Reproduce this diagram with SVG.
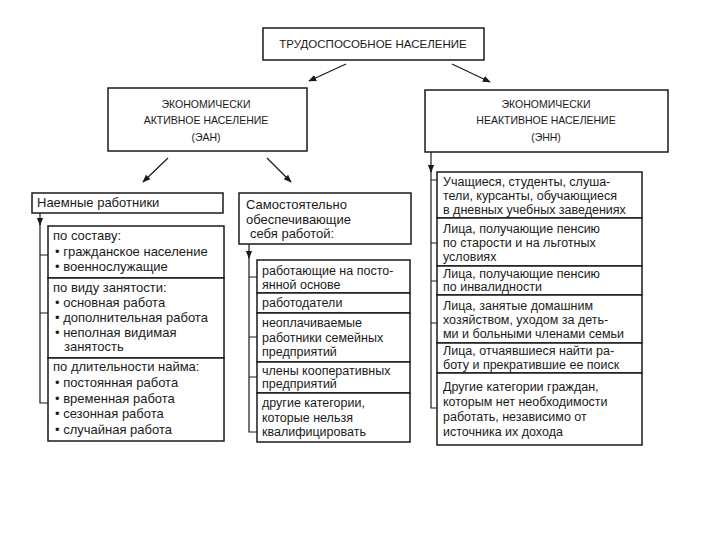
<svg xmlns="http://www.w3.org/2000/svg" width="720" height="540" viewBox="0 0 720 540">
<defs>
<style>
.bx{fill:#fff;stroke:#1a1a1a;stroke-width:1.5}
.t{font-family:"Liberation Sans",Arial,sans-serif;fill:#1a1a1a}
.h{font-size:10.5px;text-anchor:middle}
.ti{font-size:11.5px;text-anchor:middle}
.b{font-size:12.5px}
.l{font-size:13px}
.c{fill:none;stroke:#1a1a1a;stroke-width:1.2}
</style>
<marker id="ah" viewBox="0 0 10 10" refX="9" refY="5" markerWidth="8" markerHeight="8" orient="auto" markerUnits="userSpaceOnUse"><path d="M0,1 L10,5 L0,9 z" fill="#1a1a1a"/></marker>
</defs>
<rect width="720" height="540" fill="#fff"/>

<g id="connectors">
<line class="c" x1="346" y1="64" x2="309" y2="81" marker-end="url(#ah)"/>
<line class="c" x1="452" y1="64" x2="490" y2="82" marker-end="url(#ah)"/>
<line class="c" x1="168" y1="158" x2="143" y2="182" marker-end="url(#ah)"/>
<line class="c" x1="267" y1="158" x2="291" y2="182" marker-end="url(#ah)"/>
<path class="c" d="M40,213 V225" marker-end="url(#ah)"/>
<path class="c" d="M40,224 V403 H48 M40,255 H48 M40,313 H48"/>
<path class="c" d="M249,244 V258" marker-end="url(#ah)"/>
<path class="c" d="M249,257 V432 H257 M249,277 H257 M249,337 H257 M249,377 H257"/>
<path class="c" d="M431,152 V172" marker-end="url(#ah)"/>
<path class="c" d="M431,171 V408 H437 M431,180 H437 M431,243 H437 M431,281 H437 M431,323 H437"/>
</g>

<g id="top">
<rect class="bx" x="263" y="28" width="221" height="32"/>
<text class="t ti" x="373" y="48">ТРУДОСПОСОБНОЕ НАСЕЛЕНИЕ</text>
</g>

<g id="ean">
<rect class="bx" x="108" y="88" width="199" height="63"/>
<text class="t h" x="206" y="108">ЭКОНОМИЧЕСКИ</text>
<text class="t h" x="206" y="124">АКТИВНОЕ НАСЕЛЕНИЕ</text>
<text class="t h" x="206" y="141">(ЭАН)</text>
</g>

<g id="enn">
<rect class="bx" x="425" y="90" width="243" height="62"/>
<text class="t h" x="546" y="108">ЭКОНОМИЧЕСКИ</text>
<text class="t h" x="546" y="124">НЕАКТИВНОЕ НАСЕЛЕНИЕ</text>
<text class="t h" x="546" y="141">(ЭНН)</text>
</g>

<g id="hired">
<rect class="bx" x="32" y="193" width="191" height="20"/>
<text class="t l" x="37" y="207">Наемные работники</text>
</g>

<g id="hired-composition">
<rect class="bx" x="48" y="226" width="176" height="52"/>
<text class="t l" x="53" y="240">по составу:</text>
<text class="t l" x="55" y="256">• гражданское население</text>
<text class="t l" x="55" y="271">• военнослужащие</text>
</g>
<g id="hired-type">
<rect class="bx" x="48" y="278" width="176" height="80"/>
<text class="t l" x="53" y="292">по виду занятости:</text>
<text class="t l" x="55" y="307">• основная работа</text>
<text class="t l" x="55" y="322">• дополнительная работа</text>
<text class="t l" x="55" y="337">• неполная видимая</text>
<text class="t l" x="64" y="351">занятость</text>
</g>
<g id="hired-duration">
<rect class="bx" x="48" y="358" width="176" height="83"/>
<text class="t l" x="53" y="371">по длительности найма:</text>
<text class="t l" x="55" y="387">• постоянная работа</text>
<text class="t l" x="55" y="403">• временная работа</text>
<text class="t l" x="55" y="418">• сезонная работа</text>
<text class="t l" x="55" y="434">• случайная работа</text>
</g>

<g id="self">
<rect class="bx" x="239" y="193" width="172" height="51"/>
<text class="t l" x="246" y="209">Самостоятельно</text>
<text class="t l" x="246" y="224">обеспечивающие</text>
<text class="t l" x="250" y="238">себя работой:</text>
</g>

<g id="self-permanent">
<rect class="bx" x="257" y="260" width="153" height="33"/>
<text class="t b" x="262" y="275">работающие на посто-</text>
<text class="t b" x="262" y="289">янной основе</text>
</g>
<g id="self-employers">
<rect class="bx" x="257" y="293" width="153" height="20"/>
<text class="t b" x="262" y="307">работодатели</text>
</g>
<g id="self-unpaid">
<rect class="bx" x="257" y="313" width="153" height="49"/>
<text class="t b" x="262" y="327">неоплачиваемые</text>
<text class="t b" x="262" y="342">работники семейных</text>
<text class="t b" x="262" y="356">предприятий</text>
</g>
<g id="self-coop">
<rect class="bx" x="257" y="362" width="153" height="31"/>
<text class="t b" x="262" y="375">члены кооперативных</text>
<text class="t b" x="262" y="388">предприятий</text>
</g>
<g id="self-other">
<rect class="bx" x="257" y="393" width="153" height="49"/>
<text class="t b" x="262" y="407">другие категории,</text>
<text class="t b" x="262" y="422">которые нельзя</text>
<text class="t b" x="262" y="436">квалифицировать</text>
</g>

<g id="enn-students">
<rect class="bx" x="437" y="172" width="205" height="46"/>
<text class="t b" x="443" y="186">Учащиеся, студенты, слуша-</text>
<text class="t b" x="443" y="200">тели, курсанты, обучающиеся</text>
<text class="t b" x="443" y="214">в дневных учебных заведениях</text>
</g>
<g id="enn-pension-age">
<rect class="bx" x="437" y="218" width="205" height="48"/>
<text class="t b" x="443" y="233">Лица, получающие пенсию</text>
<text class="t b" x="443" y="247">по старости и на льготных</text>
<text class="t b" x="443" y="261">условиях</text>
</g>
<g id="enn-pension-disability">
<rect class="bx" x="437" y="266" width="205" height="29"/>
<text class="t b" x="443" y="278">Лица, получающие пенсию</text>
<text class="t b" x="443" y="291">по инвалидности</text>
</g>
<g id="enn-household">
<rect class="bx" x="437" y="295" width="205" height="48"/>
<text class="t b" x="443" y="310">Лица, занятые домашним</text>
<text class="t b" x="443" y="324">хозяйством, уходом за деть-</text>
<text class="t b" x="443" y="338">ми и больными членами семьи</text>
</g>
<g id="enn-discouraged">
<rect class="bx" x="437" y="343" width="205" height="30"/>
<text class="t b" x="443" y="355">Лица, отчаявшиеся найти ра-</text>
<text class="t b" x="443" y="369">боту и прекратившие ее поиск</text>
</g>
<g id="enn-other">
<rect class="bx" x="437" y="373" width="205" height="72"/>
<text class="t b" x="443" y="391">Другие категории граждан,</text>
<text class="t b" x="443" y="406">которым нет необходимости</text>
<text class="t b" x="443" y="421">работать, независимо от</text>
<text class="t b" x="443" y="436">источника их дохода</text>
</g>
</svg>
